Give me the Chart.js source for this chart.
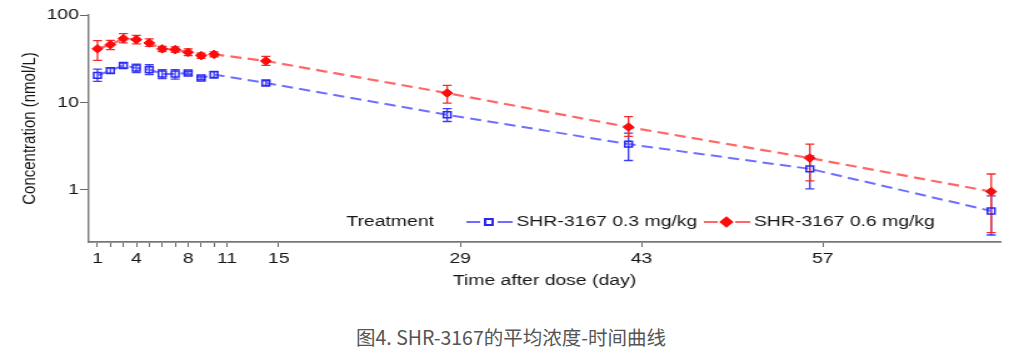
<!DOCTYPE html>
<html>
<head>
<meta charset="utf-8">
<script src="https://cdn.jsdelivr.net/npm/chart.js@4.4.2/dist/chart.umd.min.js"></script>
<style>
  body { margin: 0; background: #fff; width: 1014px; height: 353px; overflow: hidden; position: relative; }
  #wrap { position: absolute; left: 0; top: 0; width: 811px; height: 300px; transform: scaleX(1.2503); transform-origin: 0 0; }
  #caption { position: absolute; left: 4px; top: 322px; width: 1014px; text-align: center;
    font: 19.5px "Noto Sans CJK SC", sans-serif; color: #555; }
</style>
</head>
<body>
<div id="wrap"><canvas id="pkChart" width="811" height="300"></canvas></div>
<div id="caption">图4. SHR-3167的平均浓度-时间曲线</div>
<script>
// sampling days
const days = [1, 2, 3, 4, 5, 6, 7, 8, 9, 10, 14, 28, 42, 56, 70];

// SHR-3167 0.3 mg/kg (mean, upper, lower)
const low = [20.4, 23.1, 26.5, 24.8, 23.7, 21.2, 21.2, 21.7, 19.0, 20.8, 16.7, 7.23, 3.34, 1.74, 0.575];
const lowUpper = [24.1, 24.8, 28.2, 27.5, 27.0, 23.7, 23.7, 22.7, 19.8, 22.7, 17.7, 8.5, 4.46, 2.45, 0.854];
const lowLower = [17.4, 21.7, 24.8, 22.0, 20.8, 18.7, 18.5, 20.8, 18.2, 19.0, 15.7, 6.06, 2.17, 1.03, 0.305];

// SHR-3167 0.6 mg/kg (mean, upper, lower)
const high = [41, 45.8, 53.7, 52.3, 47.9, 41, 40.2, 37.4, 34.3, 35.5, 29.8, 12.8, 5.23, 2.31, 0.957];
const highUpper = [50.9, 51.3, 61.2, 58.5, 53.2, 43.8, 43.3, 40.9, 36.7, 37.9, 33.6, 15.7, 6.9, 3.34, 1.52];
const highLower = [30.3, 40.2, 47.9, 46.7, 43.8, 38.1, 37.5, 34.3, 31.9, 33.3, 26.5, 9.85, 4.1, 1.27, 0.324];

const xTicks = [1, 2, 3, 4, 5, 6, 7, 8, 9, 10, 11, 15, 29, 43, 57];
const xLabels = [1, 4, 8, 11, 15, 29, 43, 57];
const yTicks = [1, 10, 100];

const seriesNames = ["SHR-3167 0.3 mg/kg", "SHR-3167 0.6 mg/kg"];
const fontFamily = "'Liberation Sans', Arial, sans-serif";
const textColor = "#161616";

Chart.defaults.font.family = fontFamily;
Chart.defaults.font.size = 15.5;
Chart.defaults.color = textColor;

// error bars drawn from the arrays through the chart scales
const errorBars = {
    id: "errorBars",
    beforeDatasetsDraw(chart) {
        const ctx = chart.ctx;
        const xs = chart.scales.x, ys = chart.scales.y;
        chart.data.datasets.forEach(ds => {
            ctx.save();
            ctx.strokeStyle = ds.barColor;
            ctx.lineWidth = 1.3;
            ds.upper.forEach((u, i) => {
                const x = xs.getPixelForValue(days[i]);
                const yT = ys.getPixelForValue(u);
                const yB = ys.getPixelForValue(ds.lower[i]);
                ctx.beginPath();
                ctx.moveTo(x, yT); ctx.lineTo(x, yB);
                ctx.moveTo(x - 3.6, yT); ctx.lineTo(x + 3.6, yT);
                ctx.moveTo(x - 3.6, yB); ctx.lineTo(x + 3.6, yB);
                ctx.stroke();
            });
            ctx.restore();
        });
    }
};

// legend inside the plot: "Treatment" then the two series
const treatLegend = {
    id: "treatLegend",
    afterDraw(chart) {
        const ctx = chart.ctx;
        const y = 222;
        ctx.save();
        ctx.font = "15.5px " + fontFamily;
        ctx.fillStyle = textColor;
        ctx.textBaseline = "middle";
        ctx.fillText("Treatment", 277, y);
        const starts = [373, 563];
        chart.data.datasets.forEach((ds, i) => {
            const x0 = starts[i];
            ctx.strokeStyle = ds.borderColor;
            ctx.lineWidth = 2;
            ctx.beginPath();
            ctx.moveTo(x0, y); ctx.lineTo(x0 + 11, y);
            ctx.moveTo(x0 + 25, y); ctx.lineTo(x0 + 37, y);
            ctx.stroke();
            ctx.strokeStyle = ds.pointBorderColor;
            ctx.fillStyle = ds.pointBackgroundColor;
            Chart.helpers.drawPoint(ctx, {
                pointStyle: ds.pointStyle, radius: ds.pointRadius,
                borderWidth: ds.pointBorderWidth, rotation: 0
            }, x0 + 18, y);
            ctx.fillStyle = textColor;
            ctx.fillText(ds.label, x0 + 40, y);
        });
        ctx.restore();
    }
};

new Chart(document.getElementById("pkChart"), {
    type: "line",
    data: {
        datasets: [{
            label: seriesNames[0],
            data: days.map((d, i) => ({ x: d, y: low[i] })),
            upper: lowUpper,
            lower: lowLower,
            barColor: "rgb(60,60,245)",
            borderColor: "rgba(95,95,255,0.9)",
            borderWidth: 2,
            borderDash: [9, 5],
            pointStyle: "rect",
            pointRadius: 4.2,
            pointBorderWidth: 1.5,
            pointBorderColor: "rgb(40,40,240)",
            pointBackgroundColor: "rgba(0,0,0,0)",
            tension: 0
        }, {
            label: seriesNames[1],
            data: days.map((d, i) => ({ x: d, y: high[i] })),
            upper: highUpper,
            lower: highLower,
            barColor: "rgb(240,45,45)",
            borderColor: "rgba(255,95,95,0.95)",
            borderWidth: 2.2,
            borderDash: [9, 5],
            pointStyle: "rectRot",
            pointRadius: 4.3,
            pointBorderWidth: 1,
            pointBorderColor: "rgb(255,10,10)",
            pointBackgroundColor: "rgb(255,10,10)",
            tension: 0
        }]
    },
    options: {
        responsive: false,
        maintainAspectRatio: false,
        animation: false,
        layout: { padding: { left: 0, top: 15, right: 11, bottom: 0 } },
        plugins: {
            legend: { display: false },
            tooltip: { enabled: false }
        },
        scales: {
            x: {
                type: "linear",
                min: 0.33,
                max: 70.7,
                afterFit: scale => { scale.height = 58; },
                afterBuildTicks: scale => { scale.ticks = xTicks.map(v => ({ value: v })); },
                ticks: {
                    autoSkip: false,
                    maxRotation: 0,
                    padding: 2,
                    color: textColor,
                    callback: v => xLabels.includes(v) ? String(v) : ""
                },
                grid: { drawOnChartArea: false, drawTicks: true, tickLength: 5, color: "#666" },
                border: { color: "#777", width: 1.8 },
                title: { display: true, text: "Time after dose (day)", color: textColor, padding: { top: 0, bottom: 10 } }
            },
            y: {
                type: "logarithmic",
                min: 0.2537,
                max: 100,
                afterFit: scale => { scale.width = 71; },
                afterBuildTicks: scale => { scale.ticks = yTicks.map(v => ({ value: v })); },
                ticks: {
                    padding: 1,
                    color: textColor,
                    callback: v => String(v)
                },
                grid: { drawOnChartArea: false, drawTicks: true, tickLength: 7, color: "#666" },
                border: { color: "#777", width: 1.4 },
                title: { display: true, text: "Concentration (nmol/L)", color: textColor, font: { size: 15 }, padding: { top: 15, bottom: 0 } }
            }
        }
    },
    plugins: [errorBars, treatLegend]
});
</script>
</body>
</html>
